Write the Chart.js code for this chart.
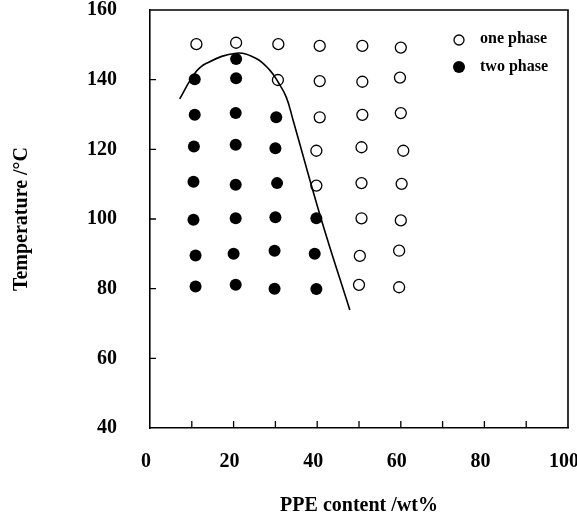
<!DOCTYPE html>
<html>
<head>
<meta charset="utf-8">
<script src="https://cdn.jsdelivr.net/npm/chart.js@4"></script>
<style>
  html, body { margin: 0; padding: 0; background: #fff; }
  #wrap { width: 577px; height: 518px; }
</style>
</head>
<body>
<div id="wrap"><canvas id="myChart" width="577" height="518"></canvas></div>
<script>
// PPE content (wt%) and temperature (°C)
const onePhaseX = [11.1, 20.6, 30.7, 40.6, 50.8, 60.0,
                   30.6, 40.6, 50.8, 59.8,
                   40.6, 50.8, 60.0,
                   39.8, 50.6, 60.6,
                   39.8, 50.6, 60.2,
                   50.6, 60.0,
                   50.2, 59.6,
                   50.0, 59.6];
const onePhaseT = [150.2, 150.6, 150.2, 149.7, 149.7, 149.2,
                   139.9, 139.6, 139.4, 140.6,
                   129.2, 129.9, 130.4,
                   119.6, 120.6, 119.6,
                   109.6, 110.3, 110.1,
                   100.2, 99.6,
                   89.4, 90.9,
                   81.1, 80.4];
const twoPhaseX = [20.6, 10.7, 20.6,
                   10.7, 20.5, 30.2,
                   10.5, 20.5, 30.0,
                   10.4, 20.5, 30.4,
                   10.4, 20.5, 30.0, 39.8,
                   10.9, 20.0, 29.8, 39.4,
                   10.9, 20.5, 29.8, 39.8];
const twoPhaseT = [145.9, 140.1, 140.4,
                   129.9, 130.4, 129.2,
                   120.8, 121.3, 120.3,
                   110.7, 109.8, 110.3,
                   99.8, 100.2, 100.5, 100.2,
                   89.5, 90.0, 90.9, 90.0,
                   80.6, 81.1, 80.0, 79.9];
// binodal curve drawn by hand in the original
const curveX = [7.1, 10.7, 13.5, 20.6, 25.4, 28.6, 30.6, 32.6, 34.2, 41.0, 47.8];
const curveT = [134.5, 141.8, 144.7, 147.6, 146.1, 142.8, 139.4, 135.0, 128.5, 99.8, 73.9];

const xTicks = [0, 10, 20, 30, 40, 50, 60, 70, 80, 90, 100];
const yTicks = [40, 60, 80, 100, 120, 140, 160];
const legendLabels = ['one phase', 'two phase'];

const pts = (xs, ys) => xs.map((x, i) => ({x: x, y: ys[i]}));

Chart.defaults.font.family = '"Liberation Serif", "Times New Roman", serif';
Chart.defaults.font.weight = 'bold';
Chart.defaults.color = '#000';

// box, inward tick marks on left and bottom axes, in-plot legend
const frame = {
  id: 'frame',
  afterDatasetsDraw(chart) {
    const ctx = chart.ctx;
    const xs = chart.scales.x, ys = chart.scales.y;
    const a = chart.chartArea;
    ctx.save();
    ctx.strokeStyle = '#000';
    ctx.lineWidth = 1.6;
    ctx.beginPath();
    ctx.moveTo(a.left, a.top);
    ctx.lineTo(a.right, a.top);
    ctx.lineTo(a.right, a.bottom);
    ctx.stroke();

    ctx.lineWidth = 1.3;
    ctx.beginPath();
    xTicks.slice(1, -1).forEach(v => {
      const px = xs.getPixelForValue(v);
      ctx.moveTo(px, a.bottom);
      ctx.lineTo(px, a.bottom - 7);
    });
    yTicks.slice(1, -1).forEach(v => {
      const py = ys.getPixelForValue(v);
      ctx.moveTo(a.left, py);
      ctx.lineTo(a.left + 6, py);
    });
    ctx.stroke();

    // legend
    const lx = 459, ly = [40, 67];
    ctx.font = 'bold 16px "Liberation Serif", serif';
    ctx.textBaseline = 'middle';
    ctx.beginPath();
    ctx.arc(lx, ly[0], 5, 0, Math.PI * 2);
    ctx.fillStyle = '#fff';
    ctx.fill();
    ctx.lineWidth = 1.3;
    ctx.stroke();
    ctx.beginPath();
    ctx.arc(lx, ly[1], 6, 0, Math.PI * 2);
    ctx.fillStyle = '#000';
    ctx.fill();
    ctx.fillText(legendLabels[0], 480, ly[0] - 1);
    ctx.fillText(legendLabels[1], 480, ly[1]);
    ctx.restore();
  }
};

const data = {
  datasets: [
    {
      label: 'curve',
      type: 'line',
      data: pts(curveX, curveT),
      borderColor: '#000',
      borderWidth: 1.6,
      pointRadius: 0,
      fill: false,
      tension: 0.4
    },
    {
      label: legendLabels[0],
      data: pts(onePhaseX, onePhaseT),
      pointStyle: 'circle',
      pointRadius: 5.5,
      backgroundColor: '#fff',
      borderColor: '#000',
      borderWidth: 1.3
    },
    {
      label: legendLabels[1],
      data: pts(twoPhaseX, twoPhaseT),
      pointStyle: 'circle',
      pointRadius: 6,
      backgroundColor: '#000',
      borderColor: '#000',
      borderWidth: 0
    }
  ]
};

// hidden tick marks give the label offset (tick padding would also pad the layout)
const hiddenGrid = len => ({
  display: true,
  drawOnChartArea: false,
  drawTicks: true,
  tickLength: len,
  color: 'rgba(0,0,0,0)'
});

const config = {
  type: 'scatter',
  data: data,
  options: {
    responsive: false,
    animation: false,
    layout: { padding: { left: 0, top: 10, right: 9, bottom: 0 } },
    plugins: {
      legend: { display: false },
      tooltip: { enabled: false }
    },
    scales: {
      x: {
        type: 'linear',
        min: 0,
        max: 100,
        afterBuildTicks: s => { s.ticks = xTicks.map(v => ({value: v})); },
        afterFit: s => { s.height = 90; },
        grid: hiddenGrid(28),
        border: { display: true, color: '#000', width: 1.6 },
        ticks: {
          padding: -6,
          labelOffset: -4,
          font: { size: 20, weight: 'bold' },
          callback: v => (v % 20 === 0 ? v : '')
        },
        title: {
          display: true,
          text: 'PPE content /wt%',
          font: { size: 20, weight: 'bold' },
          padding: { top: 0, bottom: 0 }
        }
      },
      y: {
        type: 'linear',
        min: 40,
        max: 160,
        afterBuildTicks: s => { s.ticks = yTicks.map(v => ({value: v})); },
        afterFit: s => { s.width = 150; },
        grid: hiddenGrid(35),
        border: { display: true, color: '#000', width: 1.6 },
        ticks: {
          padding: -2,
          font: { size: 20, weight: 'bold' }
        },
        title: {
          display: true,
          text: 'Temperature /°C',
          font: { size: 20, weight: 'bold' },
          padding: { top: 10, bottom: 0 }
        }
      }
    }
  },
  plugins: [frame]
};

const mychart = new Chart(document.getElementById('myChart'), config);
</script>
</body>
</html>
